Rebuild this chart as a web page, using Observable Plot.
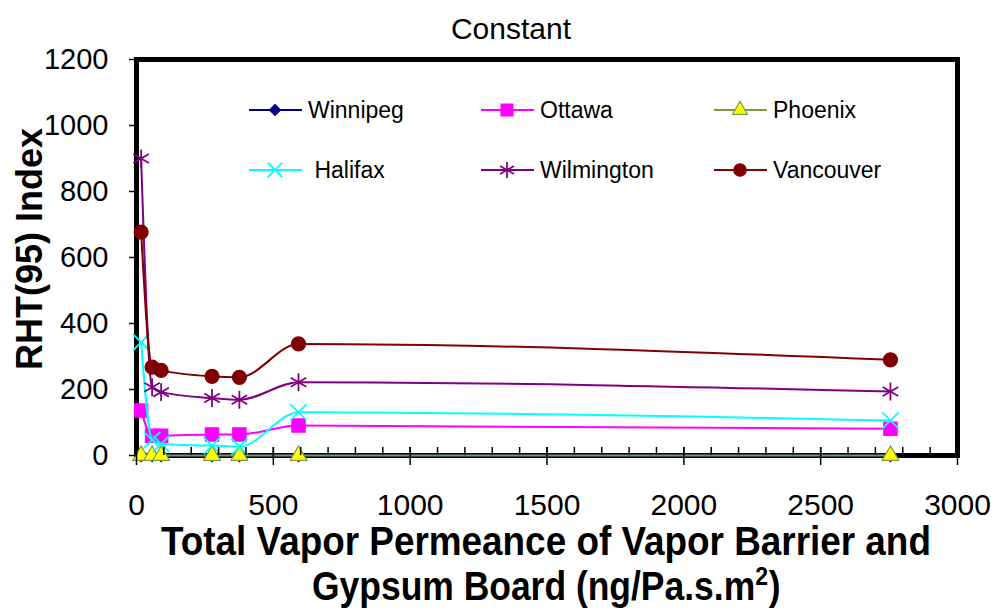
<!DOCTYPE html>
<html><head><meta charset="utf-8">
<script src="https://cdn.jsdelivr.net/npm/d3@7"></script>
<script src="https://cdn.jsdelivr.net/npm/@observablehq/plot@0.6"></script>
<style>
body{margin:0;background:#fff}
#chart{position:relative;width:997px;height:613px}
</style>
</head><body><div id="chart"></div>
<script>
// ---- data ----
const permeance = [17, 57, 90, 276, 376, 592, 2755];
const winnipeg   = [0, 0, 0, 0, 0, 0, 0];
const ottawa     = [136, 60, 60, 64, 64, 91, 81];
const phoenix    = [0, 0, 0, 0, 0, 0, 0];
const halifax    = [343, 47, 35, 30, 27, 131, 106];
const wilmington = [900, 207, 192, 174, 169, 222, 194];
const vancouver  = [677, 268, 258, 240, 237, 338, 290];
const cities = ["Winnipeg", "Ottawa", "Phoenix", "Halifax", "Wilmington", "Vancouver"];
const legendLabels = ["Winnipeg", "Ottawa", "Phoenix", " Halifax", "Wilmington", "Vancouver"];
const xTicks = [0, 500, 1000, 1500, 2000, 2500, 3000];
const xMinorTicks = [0,100,200,300,400,500,600,700,800,900,1000,1100,1200,1300,1400,1500,1600,1700,1800,1900,2000,2100,2200,2300,2400,2500,2600,2700,2800,2900,3000];
const yTicks = [0, 200, 400, 600, 800, 1000, 1200];
const titleText = "Constant";
const yLabel = "RHT(95) Index";
const xLabel1 = "Total Vapor Permeance of Vapor Barrier and";
const xLabel2 = "Gypsum Board (ng/Pa.s.m";

const seriesValues = [winnipeg, ottawa, phoenix, halifax, wilmington, vancouver];
const styles = [
  {line: "#000080", symbol: "diamond2", fill: "#000080", stroke: "#000080", r: 5.5, sw: 1.2},
  {line: "#ff00ff", symbol: "square", fill: "#ff00ff", stroke: "#ff00ff", r: 7.5, sw: 1.2},
  {line: "#7f9a48", symbol: "triangle", fill: "#ffff00", stroke: "#7f9a48", r: 6.2, sw: 1.2},
  {line: "#00ffff", symbol: "times", fill: "none", stroke: "#00ffff", r: 7.5, sw: 1.8},
  {line: "#800080", symbol: "asterisk", fill: "none", stroke: "#800080", r: 8.5, sw: 1.8},
  {line: "#800000", symbol: "circle", fill: "#800000", stroke: "#800000", r: 7, sw: 1.2}
];

const tables = cities.map((c, i) => permeance.map((x, j) => ({city: c, x, y: seriesValues[i][j]})));

const marks = [Plot.frame({stroke: "black", strokeWidth: 5})];
tables.forEach((t, i) => {
  const s = styles[i];
  marks.push(Plot.line(t, {x: "x", y: "y", curve: "monotone-x", stroke: s.line, strokeWidth: 2}));
  marks.push(Plot.dot(t, {x: "x", y: "y", symbol: () => s.symbol, fill: s.fill, stroke: s.stroke, strokeWidth: s.sw, r: s.r}));
});

const fmt = d3.format("d");
marks.push(
  Plot.axisY({ticks: yTicks, tickSize: 7, tickPadding: 21, tickFormat: fmt, label: null, fontSize: 29, strokeWidth: 1.5}),
  Plot.axisX({ticks: xMinorTicks, tickSize: 8, dy: -8, tickFormat: () => "", label: null, strokeWidth: 1.5}),
  Plot.axisX({ticks: xTicks, tickSize: 18, dy: -8, tickFormat: () => "", label: null, strokeWidth: 1.5}),
  Plot.axisX({ticks: xTicks, tickSize: 0, tickPadding: 38, tickFormat: fmt, label: null, fontSize: 30})
);

const chart = Plot.plot({
  width: 997, height: 613,
  marginLeft: 136, marginRight: 40, marginTop: 59, marginBottom: 158,
  x: {domain: [0, 3000]},
  y: {domain: [0, 1200]},
  style: {fontFamily: "'Liberation Sans', Arial, sans-serif", color: "black", background: "white", overflow: "visible"},
  marks
});
document.getElementById("chart").appendChild(chart);

// ---- overlay texts & legend ----
const svg = d3.select(chart);
const font = "'Liberation Sans', Arial, sans-serif";
svg.append("text").attr("x", 511).attr("y", 39).attr("text-anchor", "middle")
  .attr("font-family", font).attr("font-size", 30).attr("fill", "black").text(titleText);
svg.append("text").attr("transform", "translate(29,249) rotate(-90)").attr("text-anchor", "middle")
  .attr("dominant-baseline", "central").attr("font-family", font).attr("font-size", 36)
  .attr("font-weight", "bold").attr("fill", "black").text(yLabel);

function squeezedLine(y, targetWidth, build) {
  const g = svg.append("g");
  const t = g.append("text").attr("x", 0).attr("y", 0).attr("text-anchor", "start")
    .attr("font-family", font).attr("font-size", 40).attr("font-weight", "bold").attr("fill", "black");
  build(t);
  const w = t.node().getComputedTextLength() || targetWidth;
  const k = targetWidth / w;
  g.attr("transform", `translate(${546 - targetWidth / 2},${y}) scale(${k},1)`);
}
squeezedLine(555, 770, t => t.text(xLabel1));
squeezedLine(600, 468, t => {
  t.append("tspan").text(xLabel2);
  t.append("tspan").attr("dy", -15).attr("font-size", 26).text("2");
  t.append("tspan").attr("dy", 15).attr("dx", 1).text(")");
});

const symbolMap = {diamond2: d3.symbolDiamond2, square: d3.symbolSquare, triangle: d3.symbolTriangle,
  times: d3.symbolTimes, asterisk: d3.symbolAsterisk, circle: d3.symbolCircle};
const colX = [249, 481, 714];
const rowY = [110, 170];
const lg = svg.append("g");
cities.forEach((c, i) => {
  const s = styles[i];
  const cx = colX[i % 3], cy = rowY[Math.floor(i / 3)];
  lg.append("line").attr("x1", cx).attr("x2", cx + 53).attr("y1", cy).attr("y2", cy)
    .attr("stroke", s.line).attr("stroke-width", 2);
  lg.append("path").attr("transform", `translate(${cx + 26},${cy})`)
    .attr("d", d3.symbol(symbolMap[s.symbol], Math.PI * s.r * s.r * 0.8)())
    .attr("fill", s.fill).attr("stroke", s.stroke).attr("stroke-width", s.sw);
  lg.append("text").attr("x", cx + 59).attr("y", cy + 8).attr("text-anchor", "start").attr("font-family", font)
    .attr("font-size", 23).attr("fill", "black").attr("xml:space", "preserve").style("white-space", "pre").text(legendLabels[i]);
});
</script>
</body></html>
